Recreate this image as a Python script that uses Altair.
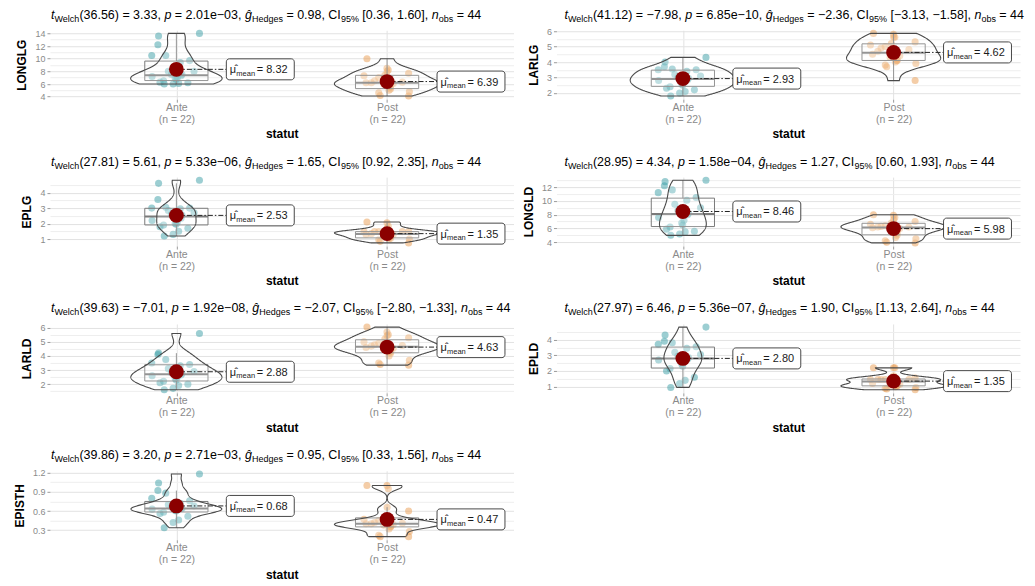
import json
import numpy as np
import pandas as pd
import altair as alt

FONT = "Liberation Sans"
CATEGORIES = ["Ante", "Post"]
VARIABLES = ["LONGLG", "LARLG", "EPLG", "LONGLD", "LARLD", "EPLD", "EPISTH"]
X_TITLE = "statut"

LONGLG_ANTE = [6.0, 6.0, 6.1, 6.2, 6.3, 6.5, 6.7, 6.9, 7.0, 7.2, 7.3, 7.5, 7.5, 8.0, 8.0, 9.4, 9.7, 10.5, 10.5, 12.2, 13.6, 14.0]
LONGLG_POST = [4.1, 4.2, 4.6, 4.8, 5.0, 5.2, 5.5, 5.8, 6.0, 6.1, 6.2, 6.2, 6.3, 6.5, 7.0, 7.3, 7.4, 7.7, 8.0, 8.2, 8.5, 10.0]
LARLG_ANTE = [1.8, 2.0, 2.1, 2.2, 2.3, 2.4, 2.5, 2.6, 2.7, 2.8, 2.85, 2.95, 3.0, 3.1, 3.2, 3.4, 3.5, 3.5, 3.55, 3.7, 4.0, 4.3]
LARLG_POST = [2.8, 3.7, 3.8, 3.9, 4.0, 4.1, 4.1, 4.2, 4.3, 4.4, 4.5, 4.7, 4.8, 4.9, 5.0, 5.1, 5.2, 5.3, 5.6, 5.6, 5.8, 5.85]
EPLG_ANTE = [1.2, 1.3, 1.5, 1.7, 1.8, 1.9, 1.95, 2.0, 2.1, 2.2, 2.35, 2.55, 2.6, 2.7, 2.85, 2.95, 3.0, 3.0, 3.05, 3.55, 4.6, 4.8]
EPLG_POST = [0.75, 0.85, 0.95, 1.0, 1.0, 1.05, 1.15, 1.2, 1.25, 1.3, 1.3, 1.35, 1.48, 1.48, 1.48, 1.48, 1.48, 1.48, 1.7, 1.82, 2.05, 2.1]
LONGLD_ANTE = [5.0, 5.2, 5.5, 5.6, 5.9, 6.2, 6.5, 6.8, 7.2, 7.6, 8.0, 8.2, 8.6, 9.0, 9.5, 10.1, 10.5, 11.2, 11.6, 12.2, 12.8, 13.0]
LONGLD_POST = [3.9, 4.0, 4.2, 4.5, 4.7, 5.0, 5.3, 5.6, 5.9, 6.0, 6.1, 6.2, 6.2, 6.3, 6.4, 6.6, 6.8, 7.0, 7.3, 7.6, 7.9, 8.0]
LARLD_ANTE = [1.6, 1.7, 1.9, 2.0, 2.1, 2.2, 2.3, 2.4, 2.5, 2.6, 2.65, 2.75, 2.8, 2.9, 3.1, 3.3, 3.4, 3.5, 3.75, 4.1, 4.2, 5.6]
LARLD_POST = [3.35, 3.4, 3.5, 3.7, 4.0, 4.2, 4.3, 4.4, 4.5, 4.55, 4.6, 4.7, 4.75, 4.8, 4.9, 5.0, 5.2, 5.3, 5.45, 5.5, 5.7, 6.05]
EPLD_ANTE = [0.95, 1.2, 1.4, 1.6, 2.0, 2.15, 2.3, 2.45, 2.6, 2.7, 2.75, 2.85, 2.95, 3.05, 3.2, 3.45, 3.55, 3.7, 3.8, 3.9, 4.3, 4.8]
EPLD_POST = [0.8, 0.85, 0.9, 0.95, 1.0, 1.05, 1.05, 1.1, 1.1, 1.15, 1.2, 1.45, 1.45, 1.45, 1.45, 1.45, 1.5, 1.55, 1.7, 2.2, 2.2, 2.2]
EPISTH_ANTE = [0.34, 0.42, 0.46, 0.52, 0.56, 0.58, 0.6, 0.61, 0.62, 0.63, 0.64, 0.64, 0.66, 0.68, 0.7, 0.72, 0.76, 0.8, 0.88, 0.92, 1.04, 1.18]
EPISTH_POST = [0.2, 0.2, 0.22, 0.28, 0.32, 0.35, 0.36, 0.37, 0.38, 0.39, 0.4, 0.4, 0.41, 0.42, 0.45, 0.47, 0.5, 0.6, 0.66, 0.95, 1.0, 1.0]

LONGLG_TICKS = [4, 6, 8, 10, 12, 14]
LARLG_TICKS = [2, 3, 4, 5, 6]
EPLG_TICKS = [1, 2, 3, 4]
LONGLD_TICKS = [4, 6, 8, 10, 12]
LARLD_TICKS = [2, 3, 4, 5, 6]
EPLD_TICKS = [1, 2, 3, 4]
EPISTH_TICKS = [0.3, 0.6, 0.9, 1.2]

WELCH_DF = ["36.56", "41.12", "27.81", "28.95", "39.63", "27.97", "39.86"]
T_STAT = ["3.33", "\u22127.98", "5.61", "4.34", "\u22127.01", "6.46", "3.20"]
P_VALUE = ["2.01e\u221203", "6.85e\u221210", "5.33e\u221206", "1.58e\u221204", "1.92e\u221208", "5.36e\u221207", "2.71e\u221203"]
HEDGES_G = ["0.98", "\u22122.36", "1.65", "1.27", "\u22122.07", "1.90", "0.95"]
CI_LOW = ["0.36", "\u22123.13", "0.92", "0.60", "\u22122.80", "1.13", "0.33"]
CI_HIGH = ["1.60", "\u22121.58", "2.35", "1.93", "\u22121.33", "2.64", "1.56"]

VALUES = {
    "LONGLG": (LONGLG_ANTE, LONGLG_POST), "LARLG": (LARLG_ANTE, LARLG_POST),
    "EPLG": (EPLG_ANTE, EPLG_POST), "LONGLD": (LONGLD_ANTE, LONGLD_POST),
    "LARLD": (LARLD_ANTE, LARLD_POST), "EPLD": (EPLD_ANTE, EPLD_POST),
    "EPISTH": (EPISTH_ANTE, EPISTH_POST),
}
TICKS = {
    "LONGLG": LONGLG_TICKS, "LARLG": LARLG_TICKS, "EPLG": EPLG_TICKS,
    "LONGLD": LONGLD_TICKS, "LARLD": LARLD_TICKS, "EPLD": EPLD_TICKS,
    "EPISTH": EPISTH_TICKS,
}

rows = []
for var in VARIABLES:
    for cat, vals in zip(CATEGORIES, VALUES[var]):
        for v in vals:
            rows.append({"variable": var, "statut": cat, "value": v})
df = pd.DataFrame(rows)

# ---------------- layout / style ----------------
PANEL_W, PANEL_H = 464, 69
X_DOMAIN = [0.4, 2.6]
PX_PER_X = PANEL_W / (X_DOMAIN[1] - X_DOMAIN[0])
BOX_HALF = 0.15
VIOLIN_HALF = 0.25
JITTER = 0.24
LABEL_GAP = 50 / PX_PER_X
LABEL_W = 68 / PX_PER_X
LABEL_H_PX = 21
POINT_COLORS = ["#3a9ea5", "#e99b50"]
BOX_COLOR = "#7a7a7a"
MAIN_SIZE, SUB_SIZE = 12.5, 9
TITLE_Y, SUB_DY = -11.5, 3
TITLE_X0 = [1, 8]

W = {' ': 278, '(': 333, ')': 333, ',': 278, '.': 278, '-': 333, '\u2212': 584, '=': 584,
     '[': 278, ']': 278, '%': 889, 'a': 556, 'b': 556, 'c': 500, 'd': 556, 'e': 556,
     'g': 556, 'h': 556, 'i': 222, 'l': 222, 'm': 833, 'n': 556, 'o': 556, 'p': 556,
     's': 500, 't': 278, 'u': 556, '\u011d': 556, 'C': 722, 'H': 722, 'I': 278, 'W': 944}
for d in "0123456789":
    W[d] = 556


def text_w(s, size):
    return sum(W.get(ch, 556) for ch in s) / 1000.0 * size


def bw_nrd0(x):
    x = np.asarray(x, float)
    sd = x.std(ddof=1)
    iqr = np.percentile(x, 75) - np.percentile(x, 25)
    lo = min(sd, iqr / 1.34)
    if lo <= 0:
        lo = sd if sd > 0 else 1.0
    return 0.9 * lo * len(x) ** -0.2


def kde_max(x, bw):
    x = np.asarray(x, float)
    g = np.linspace(x.min(), x.max(), 512)
    d = np.exp(-0.5 * ((g[:, None] - x[None, :]) / bw) ** 2).sum(1) / (len(x) * bw * np.sqrt(2 * np.pi))
    return d.max()


ONE = alt.Data(values=[{"k": 0}])
POS_EXPR = f"indexof({json.dumps(CATEGORIES)}, datum.statut) + 1"
JITTER_EXPR = ("datum.pos + ((abs(sin(datum.idx * 12.9898 + datum.pos * 78.233) * 43758.5453) % 1) - 0.5) * "
               f"{JITTER}")


def panel(i, var):
    col = i % 2
    groups = VALUES[var]
    allv = groups[0] + groups[1]
    mn, mx = min(allv), max(allv)
    rng = mx - mn
    ydom = [mn - 0.05 * rng, mx + 0.05 * rng]
    majors = TICKS[var]
    step = majors[1] - majors[0]
    minors = [round(m + step / 2, 6) for m in [majors[0] - step] + majors]
    minors = [m for m in minors if ydom[0] <= m <= ydom[1]]
    yvals = list(majors) + minors
    is_major = f"indexof({json.dumps(majors)}, datum.value) >= 0"
    fmt = ".0f" if all(float(t).is_integer() for t in majors) else ".1f"

    yaxis = alt.Axis(
        values=yvals, labelExpr=f"{is_major} ? format(datum.value, '{fmt}') : ''",
        labelOverlap=False, domain=False, tickSize=3, tickColor="#9a9a9a",
        tickOpacity={"condition": {"test": is_major, "value": 1}, "value": 0},
        gridColor={"condition": {"test": is_major, "value": "#e2e2e2"}, "value": "#eeeeee"},
        labelColor="#8a8a8a", labelFontSize=9, labelPadding=2,
        titleFontSize=12, titleFontWeight="bold", titleColor="black", titlePadding=6,
    )
    yscale = alt.Scale(domain=ydom, nice=False, zero=False)
    n0, n1 = len(groups[0]), len(groups[1])
    lab_expr = (f"datum.value == 1 ? {json.dumps([CATEGORIES[0], f'(n = {n0})'])} : "
                f"{json.dumps([CATEGORIES[1], f'(n = {n1})'])}")
    xaxis = alt.Axis(
        values=[1, 2], labelExpr=lab_expr, labelFlush=False, grid=True, gridColor="#e2e2e2",
        domain=False, tickSize=3, tickColor="#9a9a9a", labelColor="#8a8a8a",
        labelFontSize=10.5, labelLineHeight=12, labelPadding=0,
        titleFontSize=12, titleFontWeight="bold", titleColor="black", titlePadding=4,
    )
    xscale = alt.Scale(domain=X_DOMAIN, nice=False, zero=False)

    def Y(f):
        return alt.Y(f"{f}:Q", scale=yscale, axis=yaxis, title=var)

    def X(f):
        return alt.X(f"{f}:Q", scale=xscale, axis=xaxis, title=X_TITLE)

    base = (alt.Chart(df)
            .transform_filter(alt.datum.variable == var)
            .transform_calculate(pos=POS_EXPR))

    layers = []
    # jittered points
    pts = (base.transform_window(idx="row_number()", groupby=["statut"])
           .transform_calculate(jx=JITTER_EXPR)
           .mark_circle(size=50, opacity=0.5)
           .encode(x=X("jx"), y=Y("value"),
                   color=alt.Color("statut:N", scale=alt.Scale(domain=CATEGORIES, range=POINT_COLORS),
                                   legend=None)))
    layers.append(pts)

    # box plot
    box = (base.transform_joinaggregate(q1="q1(value)", q3="q3(value)", med="median(value)",
                                        groupby=["statut", "pos"])
           .transform_calculate(lof="datum.q1 - 1.5 * (datum.q3 - datum.q1)",
                                hif="datum.q3 + 1.5 * (datum.q3 - datum.q1)")
           .transform_filter("datum.value >= datum.lof && datum.value <= datum.hif")
           .transform_aggregate(wlo="min(value)", whi="max(value)", bq1="max(q1)",
                                bq3="max(q3)", bmed="max(med)", groupby=["statut", "pos"])
           .transform_calculate(bl=f"datum.pos - {BOX_HALF}", br=f"datum.pos + {BOX_HALF}"))
    layers.append(box.mark_rule(color=BOX_COLOR, strokeWidth=1)
                  .encode(x=X("pos"), y=Y("wlo"), y2=alt.Y2("bq1:Q")))
    layers.append(box.mark_rule(color=BOX_COLOR, strokeWidth=1)
                  .encode(x=X("pos"), y=Y("bq3"), y2=alt.Y2("whi:Q")))
    layers.append(box.mark_rect(fill="white", fillOpacity=0.2, stroke=BOX_COLOR, strokeWidth=1)
                  .encode(x=X("bl"), x2=alt.X2("br:Q"), y=Y("bq1"), y2=alt.Y2("bq3:Q")))
    layers.append(box.mark_rule(color=BOX_COLOR, strokeWidth=2)
                  .encode(x=X("bl"), x2=alt.X2("br:Q"), y=Y("bmed")))

    # violins (scale = "area")
    bws = [bw_nrd0(g) for g in groups]
    maxd = max(kde_max(g, b) for g, b in zip(groups, bws))
    k = VIOLIN_HALF / maxd
    for gi, cat in enumerate(CATEGORIES):
        vals = groups[gi]
        p = gi + 1
        vio = (base.transform_filter(alt.datum.statut == cat)
               .transform_density("value", as_=["value", "density"], bandwidth=bws[gi],
                                  extent=[min(vals), max(vals)], steps=200)
               .transform_calculate(xl=f"{p} - datum.density * {k}", xr=f"{p} + datum.density * {k}")
               .mark_area(orient="horizontal", fill="white", fillOpacity=0.2,
                          stroke="#4a4a4a", strokeWidth=1.1)
               .encode(y=Y("value"), x=X("xl"), x2=alt.X2("xr:Q")))
        layers.append(vio)

    # means + labels
    hu = (LABEL_H_PX / 2) * (ydom[1] - ydom[0]) / PANEL_H
    mean = (base.transform_aggregate(mean="mean(value)", groupby=["statut", "pos"])
            .transform_calculate(lx=f"datum.pos + {LABEL_GAP}",
                                 lx2=f"datum.pos + {LABEL_GAP + LABEL_W}",
                                 ylo=f"datum.mean - {hu}", yhi=f"datum.mean + {hu}",
                                 lab="'= ' + format(datum.mean, '.2f')"))
    layers.append(mean.mark_rule(color="#222222", strokeWidth=1, strokeDash=[5, 2, 1.5, 2])
                  .encode(x=X("pos"), x2=alt.X2("lx:Q"), y=Y("mean")))
    layers.append(mean.mark_circle(size=220, color="#8b0000", opacity=1)
                  .encode(x=X("pos"), y=Y("mean")))
    layers.append(mean.mark_rect(fill="white", stroke="#333333", strokeWidth=0.9, cornerRadius=3)
                  .encode(x=X("lx"), x2=alt.X2("lx2:Q"), y=Y("ylo"), y2=alt.Y2("yhi:Q")))
    layers.append(mean.mark_text(text="\u03bc\u0302", align="left", baseline="alphabetic",
                                 dx=3.5, dy=4, fontSize=11, color="#1a1a1a")
                  .encode(x=X("lx"), y=Y("mean")))
    layers.append(mean.mark_text(text="mean", align="left", baseline="alphabetic",
                                 dx=10, dy=6.5, fontSize=7.5, color="#1a1a1a")
                  .encode(x=X("lx"), y=Y("mean")))
    layers.append(mean.mark_text(align="left", baseline="alphabetic", dx=30.5, dy=4, fontSize=11,
                                 color="#1a1a1a")
                  .encode(x=X("lx"), y=Y("mean"), text="lab:N"))

    # subtitle with statistics (rich text segments)
    nobs = len(allv)
    segs = [("t", "i"), ("Welch", "s"), (f"({WELCH_DF[i]}) = {T_STAT[i]}, ", "n"),
            ("p", "i"), (f" = {P_VALUE[i]}, ", "n"), ("\u011d", "i"), ("Hedges", "s"),
            (f" = {HEDGES_G[i]}, CI", "n"), ("95%", "s"),
            (f" [{CI_LOW[i]}, {CI_HIGH[i]}], ", "n"), ("n", "i"), ("obs", "s"),
            (f" = {nobs}", "n")]
    x = TITLE_X0[col]
    for txt, kind in segs:
        size = SUB_SIZE if kind == "s" else MAIN_SIZE
        stripped = txt.lstrip(" ")
        lead = text_w(txt[: len(txt) - len(stripped)], size)
        if stripped.strip():
            kw = dict(text=stripped.rstrip(), align="left", baseline="alphabetic",
                      fontSize=size, color="black")
            if kind == "i":
                kw["fontStyle"] = "italic"
            layers.append(alt.Chart(ONE).mark_text(**kw)
                          .encode(x=alt.value(x + lead),
                                  y=alt.value(TITLE_Y + (SUB_DY if kind == "s" else 0))))
        x += text_w(txt, size)

    return alt.layer(*layers).properties(width=PANEL_W, height=PANEL_H)


panels = [panel(i, v) for i, v in enumerate(VARIABLES)]

chart = (alt.concat(*panels, columns=2, spacing={"row": 78, "column": 43}, bounds="flush",
                    padding={"left": 4, "top": 0, "right": 2, "bottom": 2})
         .configure(font=FONT)
         .configure_view(stroke="transparent"))

chart.save("out.html", embed_options={"renderer": "svg", "actions": False})
